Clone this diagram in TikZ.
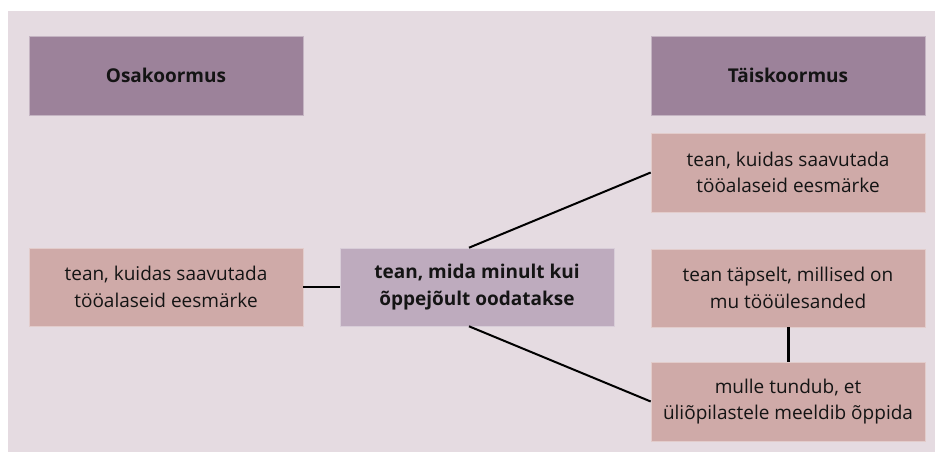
\documentclass[tikz,border=0pt]{standalone}
\usepackage{fontspec}
\setmainfont{Open Sans}
\definecolor{bgc}{RGB}{229,219,225}
\definecolor{headc}{RGB}{156,130,154}
\definecolor{pinkc}{RGB}{207,170,168}
\definecolor{centc}{RGB}{190,171,190}
\definecolor{txtc}{RGB}{20,20,20}
\begin{document}
\begin{tikzpicture}[x=1pt,y=-1pt,
  box/.style={minimum width=274pt,minimum height=79pt,inner sep=0pt,align=center,
    text=txtc,font=\fontsize{19}{26.7}\selectfont,draw=white!40!#1,line width=0.6pt,fill=#1},
  hbox/.style={box=headc,font=\fontsize{19}{26.7}\selectfont\bfseries},
  conn/.style={draw=black,line width=2pt}]
\useasboundingbox (0,0) rectangle (935,452);
\fill[white] (0,0) rectangle (935,452);
\fill[bgc] (8,11) rectangle (935,452);
\node[hbox] (osa) at (166,75.5) {Osakoormus};
\node[hbox] (tais) at (788,75.5) {Täiskoormus};
\node[box=pinkc] (r1) at (788,172.5) {tean, kuidas saavutada\\tööalaseid eesmärke};
\node[box=pinkc,minimum height=78pt] (l1) at (166,287) {tean, kuidas saavutada\\tööalaseid eesmärke};
\node[box=centc,minimum height=78pt,font=\fontsize{19}{26.7}\selectfont\bfseries] (c) at (477,287) {tean, mida minult kui\\õppejõult oodatakse};
\node[box=pinkc,minimum height=78pt] (r2) at (788,288) {tean täpselt, millised on\\mu tööülesanded};
\node[box=pinkc] (r3) at (788,401.5) {mulle tundub, et\\üliõpilastele meeldib õppida};
\draw[conn] (l1.east) -- (c.west);
\draw[conn] ([xshift=-8pt]c.north) -- (r1.west);
\draw[conn] ([xshift=-8pt]c.south) -- (r3.west);
\draw[conn,line width=3pt] (r2.south) -- (r3.north);
\end{tikzpicture}
\end{document}
